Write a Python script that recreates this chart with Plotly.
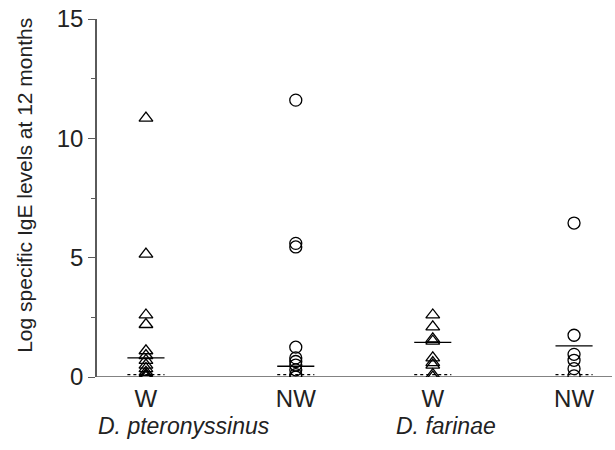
import plotly.graph_objects as go

# Group positions along the x axis and their labels
groups = ["W", "NW", "W", "NW"]
group_x = [1.0, 2.05, 3.01, 4.0]
species = ["D. pteronyssinus", "D. farinae"]
species_x = [1.27, 3.10]

# Log specific IgE levels at 12 months, per group
dp_w = [10.85, 5.15, 2.6, 2.2, 1.1, 0.9, 0.7, 0.5, 0.35, 0.2, 0.1, 0.05, 0.0]
dp_nw = [11.6, 5.6, 5.45, 1.25, 0.8, 0.65, 0.5, 0.3, 0.1, 0.0]
df_w = [2.6, 2.1, 1.6, 1.5, 0.8, 0.6, 0.5, 0.1, 0.0]
df_nw = [6.45, 1.75, 0.95, 0.7, 0.35, 0.05]
values = [dp_w, dp_nw, df_w, df_nw]
symbols = ["triangle-up-open", "circle-open", "triangle-up-open", "circle-open"]

# Group medians and detection limit
medians = [0.8, 0.45, 1.45, 1.3]
limit = 0.1

FONT = "Liberation Sans, Arial, sans-serif"
AX = "#5a5a5a"
half = 0.13

fig = go.Figure()
for gx, vals, sym in zip(group_x, values, symbols):
    fig.add_trace(go.Scatter(
        x=[gx] * len(vals), y=vals, mode="markers",
        marker=dict(symbol=sym, size=12, color="black", line=dict(width=1.3, color="black")),
        showlegend=False, hoverinfo="y",
    ))
for gx, m in zip(group_x, medians):
    fig.add_trace(go.Scatter(
        x=[gx - half, gx + half], y=[m, m], mode="lines",
        line=dict(color="black", width=1.3), showlegend=False, hoverinfo="skip",
    ))
    fig.add_trace(go.Scatter(
        x=[gx - half, gx + half], y=[limit, limit], mode="lines",
        line=dict(color="black", width=1.3, dash="dot"), showlegend=False, hoverinfo="skip",
    ))

fig.update_layout(
    width=615, height=450,
    margin=dict(l=97, r=3, t=19, b=73),
    paper_bgcolor="white", plot_bgcolor="white",
    font=dict(family=FONT, color="#222", size=24),
    xaxis=dict(
        range=[0.657, 4.266], showgrid=False, zeroline=False,
        tickmode="array", tickvals=group_x, ticktext=groups, ticks="",
        showline=False, tickfont=dict(size=24, family=FONT), ticklabelstandoff=5,
    ),
    yaxis=dict(
        range=[0, 15], showgrid=False, zeroline=False,
        tickvals=[0, 5, 10, 15], ticks="outside", ticklen=7, tickwidth=1.3, tickcolor=AX,
        showline=True, linecolor=AX, linewidth=1.5,
        minor=dict(dtick=2.5, ticks="outside", ticklen=4, tickwidth=1.3, tickcolor=AX),
        tickfont=dict(size=24, family=FONT),
    ),
    shapes=[dict(type="line", xref="paper", yref="y", x0=0, x1=1, y0=0, y1=0,
                 line=dict(color=AX, width=1.5), layer="below")],
)

fig.add_annotation(
    text="Log specific IgE levels at 12 months", textangle=-90,
    xref="paper", yref="paper", x=0, y=0.534, xanchor="center", yanchor="middle",
    xshift=-72, showarrow=False, font=dict(size=21, family=FONT, color="#222"),
)
for name, sx in zip(species, species_x):
    fig.add_annotation(
        text="<i>" + name + "</i>", xref="x", yref="paper", x=sx, y=0,
        yshift=-64, showarrow=False, font=dict(size=23, family=FONT, color="#222"),
    )

fig.write_html("out.html")
